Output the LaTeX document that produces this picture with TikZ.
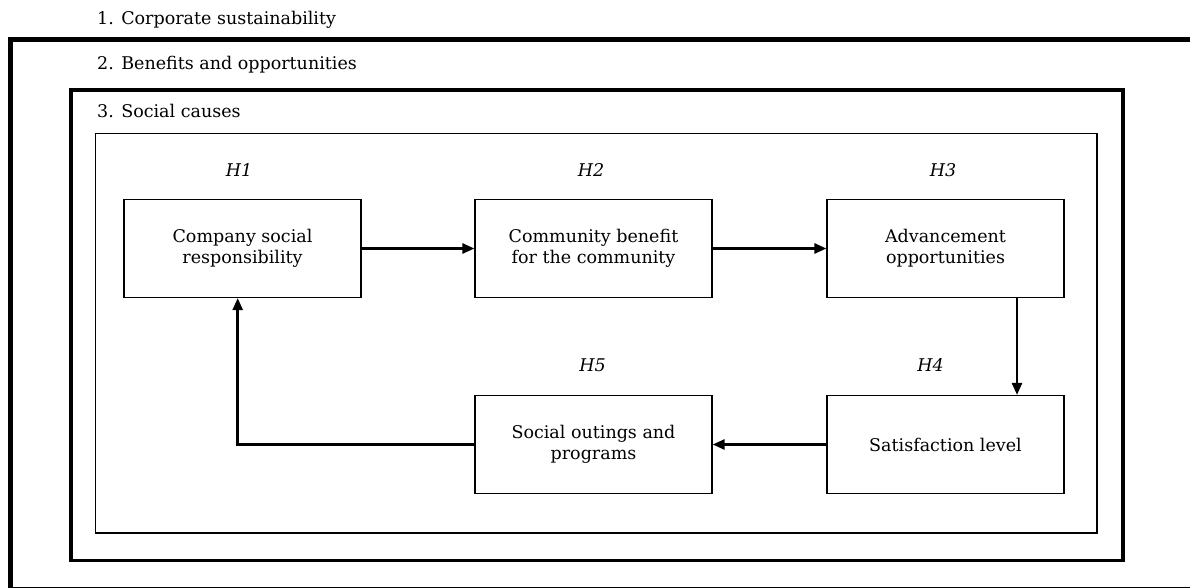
\documentclass[tikz,border=0pt]{standalone}
\usepackage{fontspec}
\setmainfont{DejaVu Serif}
\usetikzlibrary{arrows.meta,calc}
\begin{document}
\begin{tikzpicture}[x=1pt,y=-1pt,
  hyp/.style={font=\fontsize{17.5}{21}\selectfont\itshape, anchor=base},
  lbl/.style={font=\fontsize{17.5}{21}\selectfont, anchor=base west, inner sep=0pt},
  boxnode/.style={draw, line width=1.2pt, minimum width=237pt, minimum height=98pt,
     align=center, inner sep=0pt, font=\fontsize{17.5}{21}\selectfont},
  arr/.style={line width=2.5pt, -{Triangle[length=12pt,width=10pt]}}]
\useasboundingbox (0,0) rectangle (1190,588);
\clip (0,0) rectangle (1190,588);
% frames
\draw[line width=5pt] (10.5,39.5) rectangle (1200,589.5);
\draw[line width=3.5pt] (71,90) rectangle (1123,560.5);
\draw[line width=1.5pt] (95.5,133.5) rectangle (1097,533);
\node[lbl] (l1) at (97,25) {1. Corporate sustainability};
\node[lbl] (l2) at (97,70) {2. Benefits and opportunities};
\node[lbl] (l3) at (97,118) {3. Social causes};
% boxes
\node[boxnode] (b1) at (242.5,248.5) {Company social\\responsibility};
\node[boxnode] (b2) at (593.5,248.5) {Community benefit\\for the community};
\node[boxnode] (b3) at (945.5,248.5) {Advancement\\opportunities};
\node[boxnode] (b4) at (945.5,444.5) {Satisfaction level};
\node[boxnode] (b5) at (593.5,444.5) {Social outings and\\programs};
% hypothesis labels
\node[hyp] (h1) at (239,177) {H1};
\node[hyp] (h2) at (591,177) {H2};
\node[hyp] (h3) at (943,177) {H3};
\node[hyp] (h4) at (930.5,371.5) {H4};
\node[hyp] (h5) at (592.5,371) {H5};
% connectors
\coordinate (c34) at (1017,0);
\coordinate (c51) at (237.7,0);
\draw[arr] (b1.east) -- (b2.west);
\draw[arr] (b2.east) -- (b3.west);
\draw[arr] (b3.south -| c34) -- (b4.north -| c34);
\draw[arr] (b4.west) -- (b5.east);
\draw[arr] (b5.west) -| (b1.south -| c51);
\end{tikzpicture}
\end{document}
